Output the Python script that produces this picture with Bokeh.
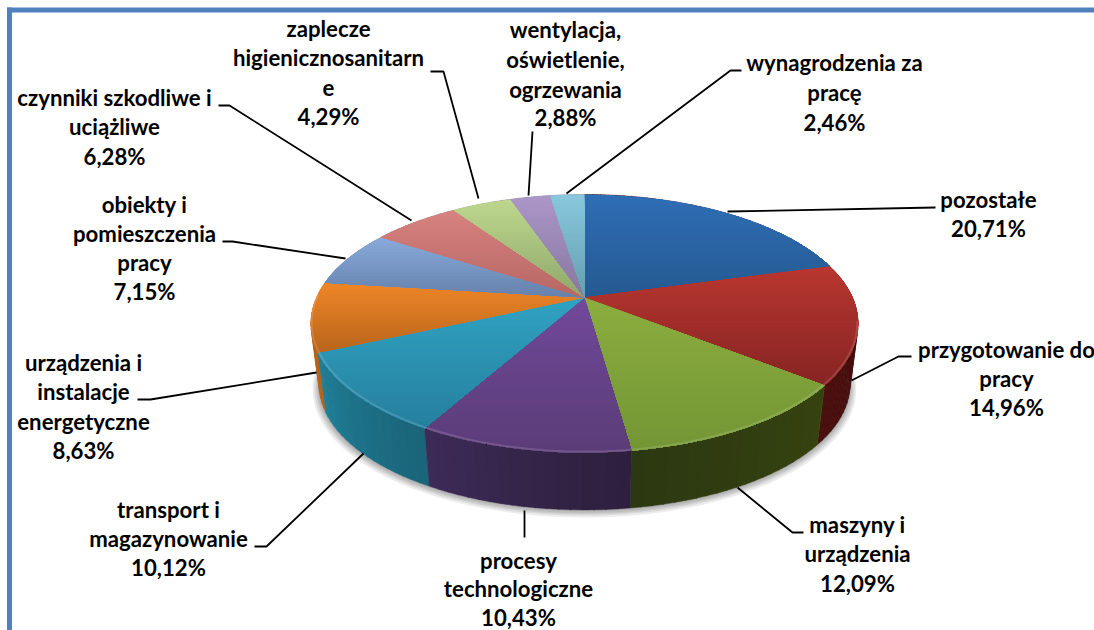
import numpy as np
from bokeh.plotting import figure
from bokeh.models import Range1d
from bokeh.core.properties import value
from bokeh.embed import file_html
from bokeh.resources import INLINE

# ---- data ----
categories = [
    ["pozostałe"],
    ["przygotowanie do", "pracy"],
    ["maszyny i", "urządzenia"],
    ["procesy", "technologiczne"],
    ["transport i", "magazynowanie"],
    ["urządzenia i", "instalacje", "energetyczne"],
    ["obiekty i", "pomieszczenia", "pracy"],
    ["czynniki szkodliwe i", "uciążliwe"],
    ["zaplecze", "higienicznosanitarn", "e"],
    ["wentylacja,", "oświetlenie,", "ogrzewania"],
    ["wynagrodzenia za", "pracę"],
]
shares = [20.71, 14.96, 12.09, 10.43, 10.12, 8.63, 7.15, 6.28, 4.29, 2.88, 2.46]

# ---- styles ----
top_from = ["#2f6db5", "#b8362f", "#8bad3f", "#70499a", "#31a2c2", "#ee8527",
            "#88a9da", "#d68280", "#bdd68e", "#ab96c8", "#88c7dd"]
top_to = ["#245a90", "#852423", "#739534", "#5b3c77", "#257f9d", "#b7641b",
          "#6480aa", "#b66664", "#8ea76a", "#86769e", "#649eae"]
side_left = ["#4a100e", "#4a100e", "#2c3811", "#3d2b58", "#207f99", "#c46c1e",
             "#888888", "#888888", "#888888", "#888888", "#888888"]
side_right = ["#3c0b0b", "#3c0b0b", "#36430f", "#2d1f3c", "#1a6478", "#b5621a",
              "#888888", "#888888", "#888888", "#888888", "#888888"]
text_color = "#000000"
frame_color = "#4f81bd"
label_font = "Lato"
label_size = "22.2px"

# ---- layout (page pixels) ----
cx, top_y0, low_y0, low_scale = 584.0, 297.0, 359.0, 0.97
persp, rad_x, rad_y = 0.2016, 268.0, 123.8
label_dy = -1.5
label_x = [988, 1006, 857, 518, 168, 83, 144, 114, 328, 565, 834]
label_y = [[200, 229], [350, 379, 408], [525, 554, 584], [561, 589, 618],
           [510, 539, 568], [363, 392, 422, 451], [205, 234, 263, 292],
           [98, 127, 157], [29, 58, 88, 117], [30, 60, 90, 118], [63, 93, 123]]
leader_x = [[727, 935], [851, 898, 911], [737, 792, 803], [524, 524], [363, 266, 254],
            [316, 150, 137], [345, 232, 222], [411, 229, 218], [478, 443, 430],
            [528, 532], [566, 730, 741]]
leader_y = [[211, 207], [380, 356, 356], [487, 532, 532], [510, 537], [453, 546, 546],
            [372, 399, 399], [258, 241, 241], [220, 105, 105], [198, 71, 71],
            [195, 131], [193, 70, 70]]


def rgb(h):
    return np.array([int(h[i:i + 2], 16) for i in (1, 3, 5)], dtype=float)


def mix(a, b, t):
    c = rgb(a) * (1 - t) + rgb(b) * t
    return "#%02x%02x%02x" % tuple(int(round(v)) for v in c)


def rim(theta, y0=top_y0, s=1.0):
    den = 1 + persp * np.cos(theta)
    return cx + s * rad_x * np.sin(theta) / den, y0 - s * rad_y * np.cos(theta) / den


def clip_below(xs, ys, yc):
    """Part of a polygon that lies at or below the page row yc."""
    ox, oy = [], []
    n = len(xs)
    for i in range(n):
        x1, y1, x2, y2 = xs[i], ys[i], xs[(i + 1) % n], ys[(i + 1) % n]
        if y1 >= yc:
            ox.append(x1); oy.append(y1)
        if (y1 >= yc) != (y2 >= yc):
            t = (yc - y1) / (y2 - y1)
            ox.append(x1 + t * (x2 - x1)); oy.append(yc)
    return ox, oy


p = figure(width=1094, height=630, x_range=Range1d(0, 1094), y_range=Range1d(630, 0),
           toolbar_location=None, output_backend="svg",
           x_axis_location=None, y_axis_location=None, min_border=0)
p.grid.visible = False
p.outline_line_color = None
p.background_fill_color = "white"
p.border_fill_color = "white"

# frame
p.quad(left=[6.5, 6.5], right=[11.5, 1094], top=[7, 7], bottom=[630, 12],
       fill_color=frame_color, line_color=None)

edges = np.cumsum([0] + shares) / sum(shares) * 2 * np.pi

# soft shadow
full = np.linspace(0, 2 * np.pi, 240)
for grow, dy in [(1.024, 4), (1.018, 3), (1.012, 2.5), (1.007, 2), (1.003, 1)]:
    sx, sy = rim(full, low_y0 + dy, low_scale * grow)
    p.patch(sx, sy, fill_color="#404040", fill_alpha=0.10, line_color=None)

# outer wall, drawn from back to front
strips = []
for i in range(len(shares)):
    a0, a1 = edges[i], edges[i + 1]
    n = max(2, int((a1 - a0) / 0.035))
    ang = np.linspace(a0, a1, n + 1)
    for j in range(n):
        aa = np.linspace(ang[j], min(ang[j + 1] + 0.004, a1), 3)
        tx, ty = rim(aa)
        bx, by = rim(aa, low_y0, low_scale)
        frac = (j + 0.5) / n
        col = mix(side_right[i], side_left[i], frac)
        strips.append((np.cos(ang[j]), list(tx) + list(bx[::-1]), list(ty) + list(by[::-1]), col))
strips.sort(key=lambda s: -s[0])
p.patches([s[1] for s in strips], [s[2] for s in strips],
          fill_color=[s[3] for s in strips], line_color=[s[3] for s in strips], line_width=0.4)

# top surface: each slice has its own vertical shading
for i in range(len(shares)):
    aa = np.linspace(edges[i], edges[i + 1], max(8, int((edges[i + 1] - edges[i]) * 60)))
    rx, ry = rim(aa)
    xs = [cx] + list(rx)
    ys = [top_y0] + list(ry)
    y_min, y_max = min(ys), max(ys)
    rows = np.arange(y_min, y_max, 3.0)
    bx, by, bc = [], [], []
    for r in rows:
        ox, oy = clip_below(xs, ys, r)
        if len(ox) >= 3:
            bx.append(ox); by.append(oy)
            bc.append(mix(top_from[i], top_to[i], (r - y_min) / (y_max - y_min)))
    p.patches(bx, by, fill_color=bc, line_color=None)

# bevel along the front rim
front = full[(full > 1.75) & (full < 4.75)]
hx, hy = rim(front, top_y0 - 0.5, 0.997)
p.line(hx, hy, line_color="white", line_alpha=0.14, line_width=2)

# leader lines
p.multi_line(leader_x, leader_y, line_color="black", line_width=1.8)

# labels
tx, ty, tt = [], [], []
for i, lines in enumerate(categories):
    pct = f"{shares[i]:.2f}".replace(".", ",") + "%"
    for line, y in zip(lines + [pct], label_y[i]):
        tx.append(label_x[i]); ty.append(y + label_dy); tt.append(line)
p.text(tx, ty, text=tt, text_align="center", text_baseline="middle",
       text_font=value(label_font), text_font_style="bold",
       text_font_size=value(label_size), text_color=text_color)

open("out.html", "w").write(file_html(p, INLINE))
